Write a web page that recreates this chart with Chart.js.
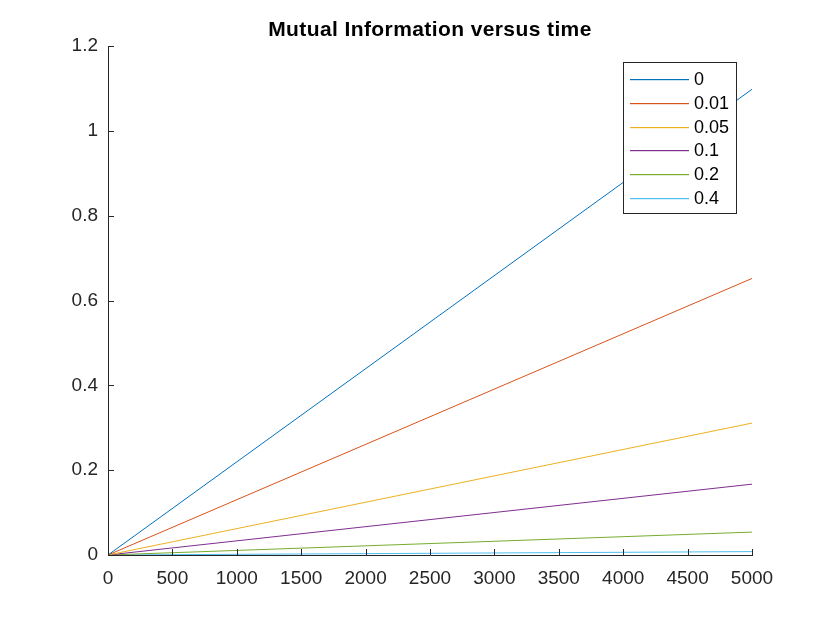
<!DOCTYPE html>
<html>
<head>
<meta charset="utf-8">
<script src="https://cdn.jsdelivr.net/npm/chart.js@4/dist/chart.umd.min.js"></script>
<style>
  html, body { margin: 0; padding: 0; background: #fff; }
  #wrap { width: 830px; height: 623px; }
</style>
</head>
<body>
<div id="wrap"><canvas id="miChart" width="830" height="623"></canvas></div>
<script>
const TITLE = 'Mutual Information versus time';
const noiseLevels = ['0', '0.01', '0.05', '0.1', '0.2', '0.4'];
const timePoints = [0, 5000];
// mutual information at each time point, one array per noise level
const mi_0 = [0, 1.098];
const mi_001 = [0, 0.652];
const mi_005 = [0, 0.311];
const mi_01 = [0, 0.167];
const mi_02 = [0, 0.054];
const mi_04 = [0, 0.008];
const xTicks = [0, 500, 1000, 1500, 2000, 2500, 3000, 3500, 4000, 4500, 5000];
const yTicks = [0, 0.2, 0.4, 0.6, 0.8, 1, 1.2];

const COLORS = ['#0072BD', '#D95319', '#EDB120', '#7E2F8E', '#77AC30', '#4DBEEE'];
const AXIS_COLOR = '#262626';
const FONT = 'Liberation Sans, Arial, Helvetica, sans-serif';

const series = [mi_0, mi_001, mi_005, mi_01, mi_02, mi_04];

const datasets = series.map((vals, i) => ({
    label: noiseLevels[i],
    data: timePoints.map((t, j) => ({ x: t, y: vals[j] })),
    borderColor: COLORS[i],
    backgroundColor: COLORS[i],
    borderWidth: 1,
    pointRadius: 0,
    tension: 0,
    fill: false
}));

// title, inward tick marks and boxed legend, MATLAB style
const decorPlugin = {
    id: 'decor',
    afterDraw(chart) {
        const ctx = chart.ctx;
        const area = chart.chartArea;
        const xs = chart.scales.x;
        const ys = chart.scales.y;

        ctx.save();
        ctx.fillStyle = '#000';
        ctx.font = 'bold 21px ' + FONT;
        ctx.letterSpacing = '0.4px';
        ctx.textAlign = 'center';
        ctx.textBaseline = 'alphabetic';
        ctx.fillText(TITLE, (area.left + area.right) / 2, 36);
        ctx.letterSpacing = '0px';

        ctx.strokeStyle = AXIS_COLOR;
        ctx.lineWidth = 1;
        ctx.beginPath();
        xTicks.forEach(v => {
            const px = Math.round(xs.getPixelForValue(v)) + 0.5;
            ctx.moveTo(px, area.bottom);
            ctx.lineTo(px, area.bottom - 6);
        });
        yTicks.forEach(v => {
            const py = Math.round(ys.getPixelForValue(v)) + 0.5;
            ctx.moveTo(area.left, py);
            ctx.lineTo(area.left + 6, py);
        });
        ctx.stroke();

        // legend
        const bx = 623.5, by = 62.5, bw = 113, bh = 151;
        ctx.fillStyle = '#fff';
        ctx.fillRect(bx, by, bw, bh);
        ctx.strokeStyle = AXIS_COLOR;
        ctx.strokeRect(bx, by, bw, bh);
        ctx.font = '18px ' + FONT;
        ctx.textAlign = 'left';
        ctx.textBaseline = 'middle';
        noiseLevels.forEach((label, i) => {
            const cy = Math.round(79 + i * 23.8);
            ctx.fillStyle = COLORS[i];
            ctx.fillRect(630, cy, 59, 1.2);
            ctx.fillStyle = '#000';
            ctx.fillText(label, 694, cy + 1);
        });
        ctx.restore();
    }
};

new Chart(document.getElementById('miChart').getContext('2d'), {
    type: 'line',
    data: { datasets: datasets },
    options: {
        responsive: false,
        animation: false,
        layout: { padding: { top: 46, right: 78, left: 0, bottom: 0 } },
        scales: {
            x: {
                type: 'linear',
                min: 0,
                max: 5000,
                afterBuildTicks: s => { s.ticks = xTicks.map(v => ({ value: v })); },
                afterFit: s => { s.height = 68; },
                grid: { display: false },
                border: { display: true, color: AXIS_COLOR, width: 1 },
                ticks: {
                    color: AXIS_COLOR,
                    font: { family: FONT, size: 19 },
                    padding: 4,
                    maxRotation: 0,
                    callback: v => String(v)
                }
            },
            y: {
                type: 'linear',
                min: 0,
                max: 1.2,
                afterBuildTicks: s => { s.ticks = yTicks.map(v => ({ value: v })); },
                afterFit: s => { s.width = 108; },
                grid: { display: false },
                border: { display: true, color: AXIS_COLOR, width: 1 },
                ticks: {
                    color: AXIS_COLOR,
                    font: { family: FONT, size: 19 },
                    padding: 2,
                    callback: v => String(Math.round(v * 10) / 10)
                }
            }
        },
        plugins: {
            legend: { display: false },
            title: { display: false },
            tooltip: { enabled: false }
        }
    },
    plugins: [decorPlugin]
});
</script>
</body>
</html>
